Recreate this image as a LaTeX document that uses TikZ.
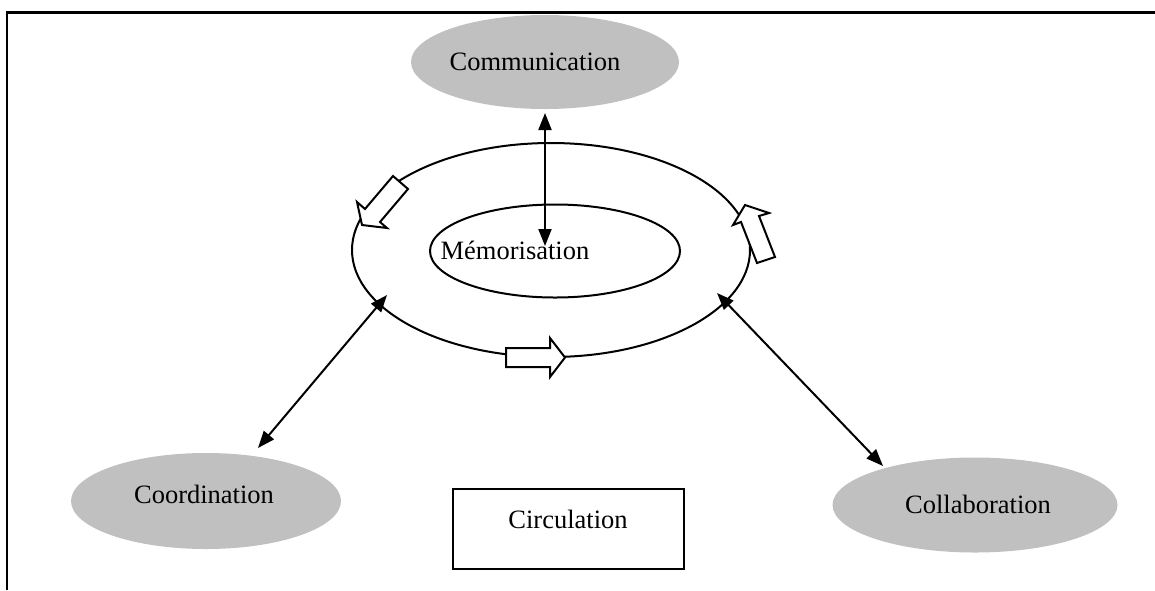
\documentclass[tikz,border=0pt]{standalone}
\usepackage{fontspec}
\setmainfont{Liberation Serif}
\usetikzlibrary{shapes.geometric,arrows.meta}
\definecolor{ovalgray}{RGB}{192,192,192}
\begin{document}
\begin{tikzpicture}[x=0.5pt,y=-0.5pt,
  oval/.style={ellipse, fill=ovalgray, draw=none, inner sep=0pt},
  ringshape/.style={ellipse, draw=black, line width=1pt, inner sep=0pt},
  lbl/.style={font=\fontsize{13.25}{15}\selectfont, inner sep=0pt},
  link/.style={line width=1pt, {Triangle[length=8.5pt,width=6.5pt]}-{Triangle[length=8.5pt,width=6.5pt]}},
  blockarrow/.style={draw=black, fill=white, line width=1pt, line join=miter},
  boxshape/.style={draw=black, line width=1.1pt, inner sep=0pt}
]
\useasboundingbox (0,0) rectangle (1155,590);
% frame
\draw[line width=1.1pt] (7,590) -- (7,12.5) -- (1155,12.5);
% grey ovals
\node[oval, minimum width=134pt, minimum height=47pt] (comm) at (545,62) {};
\node[lbl] (commtext) at (535,62) {Communication};
\node[oval, minimum width=135pt, minimum height=48pt] (coord) at (206,501) {};
\node[lbl] (coordtext) at (204,494) {Coordination};
\node[oval, minimum width=142.5pt, minimum height=47.5pt] (collab) at (975,505) {};
\node[lbl] (collabtext) at (978,504) {Collaboration};
% ring and inner ellipse
\node[ringshape, minimum width=199pt, minimum height=107pt] (ring) at (551,250) {};
\node[ringshape, minimum width=125pt, minimum height=46.5pt] (memo) at (555,251) {};
\node[lbl] (memotext) at (515,250) {Mémorisation};
% box
\node[boxshape, minimum width=115.5pt, minimum height=40pt] (circ) at (568.5,529) {};
\node[lbl] (circtext) at (568,519) {Circulation};
% block arrows on the ring
\draw[blockarrow] (393,176) -- (408,189) -- (380,222) -- (387,228) -- (362,225) -- (357,202) -- (365,209) -- cycle;
\draw[blockarrow] (757,263) -- (741,222) -- (733,225) -- (745,205) -- (769,213) -- (759,216) -- (775,257) -- cycle;
\draw[blockarrow] (506,348) -- (550,348) -- (550,338) -- (565,357.5) -- (550,377) -- (550,367) -- (506,367) -- cycle;
% connector ends
\coordinate (commend) at (545,113);
\coordinate (memoend) at (545,246);
\coordinate (ringsw) at (387,295);
\coordinate (coordend) at (258,448);
\coordinate (ringse) at (717,293);
\coordinate (collabend) at (883,466);
% connectors
\draw[link] (commend) -- (memoend);
\draw[link] (ringsw) -- (coordend);
\draw[link] (ringse) -- (collabend);
\end{tikzpicture}
\end{document}
